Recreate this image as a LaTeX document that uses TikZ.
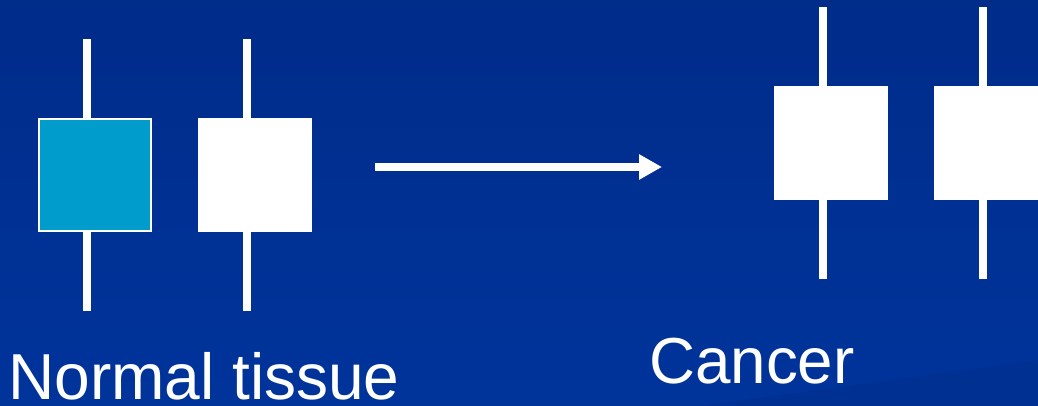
\documentclass[tikz,border=0pt]{standalone}
\usepackage{fontspec}
\setmainfont{Liberation Sans}
\usetikzlibrary{arrows.meta}
\definecolor{bgtop}{RGB}{0,44,138}
\definecolor{bgbot}{RGB}{0,52,155}
\definecolor{bgdark}{RGB}{0,46,140}
\definecolor{cellblue}{RGB}{0,156,203}
\begin{document}
\begin{tikzpicture}[x=1pt,y=-1pt,
  cellbox/.style={minimum width=114pt,minimum height=114pt,inner sep=0pt,outer sep=0pt},
  whitecell/.style={cellbox,fill=white},
  bluecell/.style={cellbox,minimum width=112pt,minimum height=112pt,fill=cellblue,draw=white,line width=2pt},
  axis/.style={white,line width=8pt},
  label/.style={text=white,inner sep=0pt,font=\fontsize{65}{70}\selectfont}]
\useasboundingbox (0,0) rectangle (1038,406);
\clip (0,0) rectangle (1038,406);
\shade[top color=bgtop,bottom color=bgbot] (0,0) rectangle (1038,406);
\fill[bgdark,opacity=0.6] (700,406) -- (1038,360) -- (1038,406) -- cycle;
% normal tissue
\coordinate (t1) at (87,39); \coordinate (b1) at (87,311);
\coordinate (t2) at (247,39); \coordinate (b2) at (247,311);
\draw[axis] (t1) -- (b1);
\draw[axis] (t2) -- (b2);
\node[bluecell] (c1) at (95,175) {};
\node[whitecell] (c2) at (255,175) {};
% cancer
\coordinate (t3) at (823,7); \coordinate (b3) at (823,279);
\coordinate (t4) at (983,7); \coordinate (b4) at (983,279);
\draw[axis] (t3) -- (b3);
\draw[axis] (t4) -- (b4);
\node[whitecell] (c3) at (831,143) {};
\node[whitecell] (c4) at (991,143) {};
% arrow
\coordinate (as) at (375,167);
\coordinate (ae) at (662,167);
\draw[white,line width=8pt,-{Triangle[length=23pt,width=24pt]}] (as) -- (ae);
% labels
\node[label,anchor=base west] (normal) at (8,399) {\scalebox{0.985}[1]{Normal tissue}};
\node[label,anchor=base west] (cancer) at (649,383) {\scalebox{0.98}[1]{Cancer}};
\end{tikzpicture}
\end{document}
